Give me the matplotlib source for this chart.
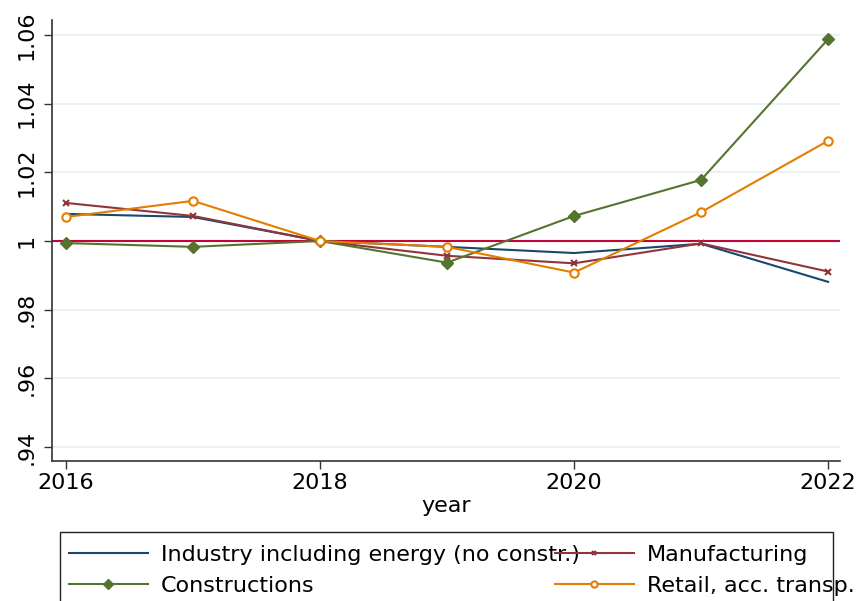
import matplotlib
matplotlib.use("Agg")
import matplotlib.pyplot as plt
from matplotlib.ticker import FixedLocator
from matplotlib.patches import Rectangle

years = [2016, 2017, 2018, 2019, 2020, 2021, 2022]
industry = [1.0079, 1.0070, 1.0000, 0.9983, 0.9965, 0.9992, 0.9881]
manufacturing = [1.0111, 1.0073, 1.0000, 0.9957, 0.9935, 0.9993, 0.9911]
constructions = [0.9994, 0.9983, 1.0000, 0.9937, 1.0073, 1.0178, 1.0588]
retail = [1.0070, 1.0117, 1.0000, 0.9983, 0.9908, 1.0084, 1.0292]

yticks = [0.94, 0.96, 0.98, 1.00, 1.02, 1.04, 1.06]
ytick_labels = [".94", ".96", ".98", "1", "1.02", "1.04", "1.06"]
xticks = [2016, 2018, 2020, 2022]

FS = 16
plt.rcParams['font.family'] = ['DejaVu Sans']
fig = plt.figure(figsize=(8.58, 6.01), dpi=100)
ax = fig.add_axes([52/858, 1-461/601, (840-52)/858, (461-20)/601])

for y in yticks:
    ax.axhline(y, color="#eaf2f3", lw=1.5, zorder=0)

ax.axhline(1.0, color="#c10534", lw=1.5, zorder=1)

l1, = ax.plot(years, industry, color="#1a476f", lw=1.5, label="Industry including energy (no constr.)", zorder=3)
l2, = ax.plot(years, manufacturing, color="#90353b", lw=1.5, marker="x", ms=4, mew=1.5,
              label="Manufacturing", zorder=3)
l3, = ax.plot(years, constructions, color="#55752f", lw=1.5, marker="D", ms=6.5,
              label="Constructions", zorder=3)
l4, = ax.plot(years, retail, color="#e37e00", lw=1.5, marker="o", ms=6, mfc="white", mew=1.5,
              label="Retail, acc. transp.", zorder=3)

ax.set_xlim(2015.89, 2022.094)
ax.set_ylim(0.9359, 1.0644)
ax.yaxis.set_major_locator(FixedLocator(yticks))
ax.set_yticklabels(ytick_labels, rotation=90, va="center", fontsize=FS)
ax.set_xticks(xticks)
ax.set_xticklabels([str(x) for x in xticks], fontsize=FS)
ax.tick_params(axis="both", direction="out", length=6, width=1, color="#333333")
ax.tick_params(axis="y", pad=5)
ax.tick_params(axis="x", pad=2.5)
for s in ["top", "right"]:
    ax.spines[s].set_visible(False)
for s in ["left", "bottom"]:
    ax.spines[s].set_color("#333333")
    ax.spines[s].set_linewidth(1.2)
ax.set_xlabel("year", fontsize=FS, labelpad=2.5)

leg = fig.legend(handles=[l1, l3, l2, l4], ncol=2, loc="upper left",
                 bbox_to_anchor=(69/858, 1-545/601), fontsize=FS,
                 handlelength=3.55, handletextpad=0.59, columnspacing=-1.13,
                 frameon=False, markerscale=0.75,
                 borderpad=0, labelspacing=0.49, borderaxespad=0)

fig.patches.append(Rectangle((60/858, -0.05), (833-60)/858, (1-532/601)+0.05,
                             transform=fig.transFigure, fill=False,
                             edgecolor="#222222", lw=1.0))

fig.savefig("out.png", dpi=100)
